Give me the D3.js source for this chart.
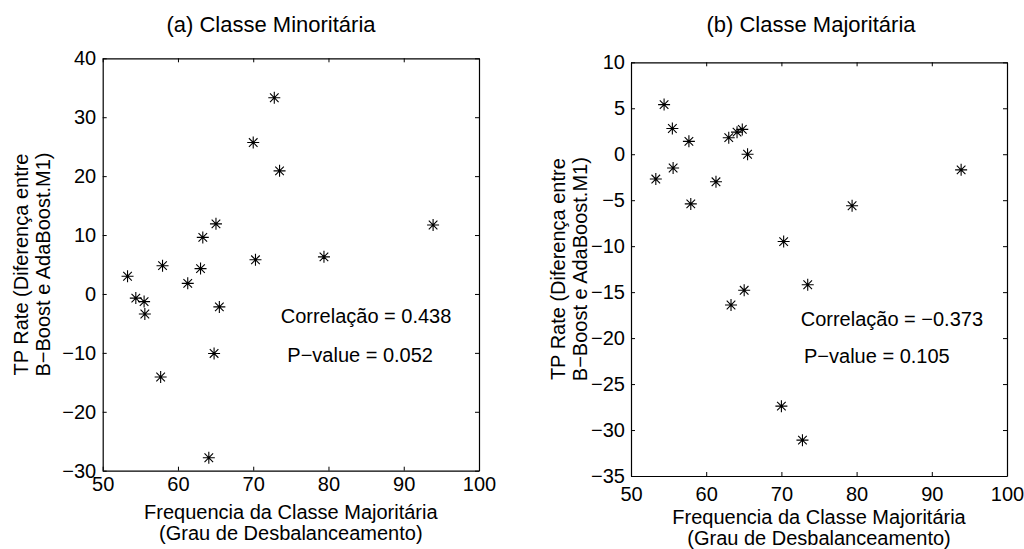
<html>
<head>
  <title>Classe Minoritaria / Majoritaria</title>
  <meta charset="utf-8" />
  <script src="https://cdnjs.cloudflare.com/ajax/libs/d3/7.8.5/d3.min.js"></script>
  <style>
    body { margin: 0; background: #fff; }
    text { font-family: "Liberation Sans", Arial, Helvetica, sans-serif; fill: #000; }
    .tick > line, path.domain { stroke: #000; }
    .tick > text { font-size: 20px; }
  </style>
</head>
<body>
  <svg width="1024" height="549"></svg>
  <script>
    // frequencia da classe majoritaria (same datasets in both panels)
    var freq = [53.3, 54.4, 55.5, 55.6, 57.7, 57.95, 61.3, 63.0, 63.3, 64.1,
                64.8, 65.05, 65.5, 70.0, 70.3, 72.8, 73.5, 79.4, 93.9]

    // TP rate difference, minority class
    var diffMin = [3.0, -0.7, -1.3, -3.4, -14.1, 4.8, 1.8, 4.3, 9.6, -27.8,
                   -10.1, 11.9, -2.2, 25.7, 5.8, 33.3, 20.9, 6.3, 11.7]

    // TP rate difference, majority class
    var diffMaj = [-2.7, 5.4, 2.8, -1.5, 1.4, -5.4, -3.0, 1.8, -16.4, 2.4,
                   2.7, -14.8, 0.0, -27.4, -9.5, -31.1, -14.2, -5.6, -1.7]

    var xTicks = [50, 60, 70, 80, 90, 100]
    var yTicksMin = [-30, -20, -10, 0, 10, 20, 30, 40]
    var yTicksMaj = [-35, -30, -25, -20, -15, -10, -5, 0, 5, 10]

    var svg = d3.select("svg")

    drawPanel({
      values: diffMin, yTicks: yTicksMin,
      left: 102.7, right: 479, top: 58.3, bottom: 470.7,
      xPad: 6, yPad: 6.5,
      title: "(a) Classe Minoritária", titleX: 271,
      corr: "Correlação = 0.438", pval: "P−value = 0.052",
      corrPos: [280.7, 322.7], pvalPos: [287.3, 361.7],
      ylabX: 28, xlabY: 519
    })

    drawPanel({
      values: diffMaj, yTicks: yTicksMaj,
      left: 631, right: 1007, top: 62.3, bottom: 476,
      xPad: 10.5, yPad: 6,
      title: "(b) Classe Majoritária", titleX: 811,
      corr: "Correlação = −0.373", pval: "P−value = 0.105",
      corrPos: [800.7, 326], pvalPos: [804, 363.3],
      ylabX: 565, xlabY: 524
    })

    function drawPanel(p) {
      var yExt = d3.extent(p.yTicks)
      var x = d3.scaleLinear().domain([50, 100]).range([p.left, p.right])
      var y = d3.scaleLinear().domain(yExt).range([p.bottom, p.top])
      var w = p.right - p.left, h = p.bottom - p.top

      var g = svg.append("g")

      // box with inward ticks on all four sides
      g.append("g")
        .attr("transform", `translate(0,${p.bottom})`)
        .call(d3.axisBottom(x).tickValues(xTicks).tickSizeInner(-4).tickSizeOuter(0).tickPadding(p.xPad))
      g.append("g")
        .attr("transform", `translate(0,${p.top})`)
        .call(d3.axisTop(x).tickValues(xTicks).tickSizeInner(-4).tickSizeOuter(0).tickFormat(""))
      g.append("g")
        .attr("transform", `translate(${p.left},0)`)
        .call(d3.axisLeft(y).tickValues(p.yTicks).tickSizeInner(-4).tickSizeOuter(0).tickPadding(p.yPad))
      g.append("g")
        .attr("transform", `translate(${p.right},0)`)
        .call(d3.axisRight(y).tickValues(p.yTicks).tickSizeInner(-4).tickSizeOuter(0).tickFormat(""))

      g.selectAll("path.domain").attr("stroke-width", 1.2)

      // asterisk markers
      var star = "M-6,0H6M0,-6V6M-4.3,-4.3L4.3,4.3M-4.3,4.3L4.3,-4.3"
      g.selectAll(".pt")
        .data(freq.map((f, i) => [f, p.values[i]]))
        .enter()
        .append("path")
          .attr("class", "pt")
          .attr("transform", d => `translate(${x(d[0])},${y(d[1])})`)
          .attr("d", star)
          .style("fill", "none")
          .style("stroke", "#000")
          .style("stroke-width", 1.1)

      // title
      g.append("text")
        .attr("x", p.titleX)
        .attr("y", 32)
        .attr("text-anchor", "middle")
        .style("font-size", "22px")
        .text(p.title)

      // stats
      g.append("text")
        .attr("x", p.corrPos[0]).attr("y", p.corrPos[1])
        .style("font-size", "20px")
        .text(p.corr)
      g.append("text")
        .attr("x", p.pvalPos[0]).attr("y", p.pvalPos[1])
        .style("font-size", "20px")
        .text(p.pval)

      // x label, two lines
      var cx = p.left + w / 2
      g.append("text")
        .attr("x", cx).attr("y", p.xlabY)
        .attr("text-anchor", "middle")
        .style("font-size", "20px")
        .text("Frequencia da Classe Majoritária")
      g.append("text")
        .attr("x", cx).attr("y", p.xlabY + 21)
        .attr("text-anchor", "middle")
        .style("font-size", "20px")
        .text("(Grau de Desbalanceamento)")

      // y label, two lines, rotated
      var cy = p.top + h / 2
      g.append("text")
        .attr("transform", `translate(${p.ylabX},${cy}) rotate(-90)`)
        .attr("text-anchor", "middle")
        .style("font-size", "20px")
        .text("TP Rate (Diferença entre")
      g.append("text")
        .attr("transform", `translate(${p.ylabX + 22},${cy}) rotate(-90)`)
        .attr("text-anchor", "middle")
        .style("font-size", "20px")
        .text("B−Boost e AdaBoost.M1)")
    }
  </script>
</body>
</html>
